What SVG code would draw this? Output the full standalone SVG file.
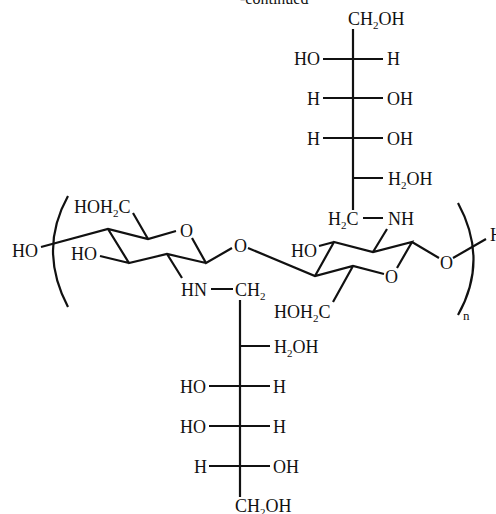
<svg xmlns="http://www.w3.org/2000/svg" width="496" height="514" viewBox="0 0 496 514">
<style>
text{font-family:"Liberation Serif","Times New Roman",serif;font-size:18px;fill:#111}
.s{font-size:11px}
path{fill:none;stroke:#111;stroke-width:2.2}
</style>
<rect width="496" height="514" fill="#fff"/>
<text id="caption" x="240" y="4" style="font-size:16px">-continued</text>
<g id="connectors">
<path d="M68 196Q38 250 68 307"/>
<path d="M458 203Q489 260 458 315"/>
<path d="M41 247L108 229L148 239L176 231M192 238L206 263L232 248M108 229L129 263L167 254L206 263M129 263L100 256M167 254L182 278M133 213L148 239M211 289H233M240 300V497"/>
<path d="M248 248L315 276L353 266L384 274M353 266L333 302M315 276L334 242L373 252L412 242L397 268M412 242L439 258M453 258L486 239M319 246L334 242M373 252L387 229M363 218H383M353 29V210"/>
<path d="M323 59H383M323 98H383M323 138H383M353 178H383M240 346H270M209 386H270M209 426H270M209 466H270"/>
</g>
<g id="top-chain">
<text x="348" y="25">CH<tspan class="s" dy="4">2</tspan><tspan dy="-4">OH</tspan></text>
<text x="294" y="65">HO</text><text x="387" y="65">H</text>
<text x="307" y="105">H</text><text x="387" y="105">OH</text>
<text x="307" y="145">H</text><text x="387" y="145">OH</text>
<text x="388" y="185">H<tspan class="s" dy="4">2</tspan><tspan dy="-4">OH</tspan></text>
</g>
<g id="left-ring">
<text x="12" y="257">HO</text>
<text x="74" y="213">HOH<tspan class="s" dy="4">2</tspan><tspan dy="-4">C</tspan></text>
<text x="180" y="237">O</text>
<text x="71" y="260">HO</text>
<text x="234" y="252">O</text>
<text x="181" y="296">HN</text>
<text x="235" y="296">CH<tspan class="s" dy="4">2</tspan></text>
</g>
<g id="right-ring">
<text x="328" y="225">H<tspan class="s" dy="4">2</tspan><tspan dy="-4">C</tspan></text>
<text x="388" y="225">NH</text>
<text x="291" y="257">HO</text>
<text x="385" y="283">O</text>
<text x="440" y="269">O</text>
<text x="274" y="318">HOH<tspan class="s" dy="4">2</tspan><tspan dy="-4">C</tspan></text>
<text x="490" y="241">H</text>
<text x="463" y="320" style="font-size:13px">n</text>
</g>
<g id="bottom-chain">
<text x="274" y="353">H<tspan class="s" dy="4">2</tspan><tspan dy="-4">OH</tspan></text>
<text x="180" y="393">HO</text><text x="273" y="393">H</text>
<text x="180" y="433">HO</text><text x="273" y="433">H</text>
<text x="194" y="473">H</text><text x="273" y="473">OH</text>
<text x="235" y="512">CH<tspan class="s" dy="4">2</tspan><tspan dy="-4">OH</tspan></text>
</g>
</svg>
